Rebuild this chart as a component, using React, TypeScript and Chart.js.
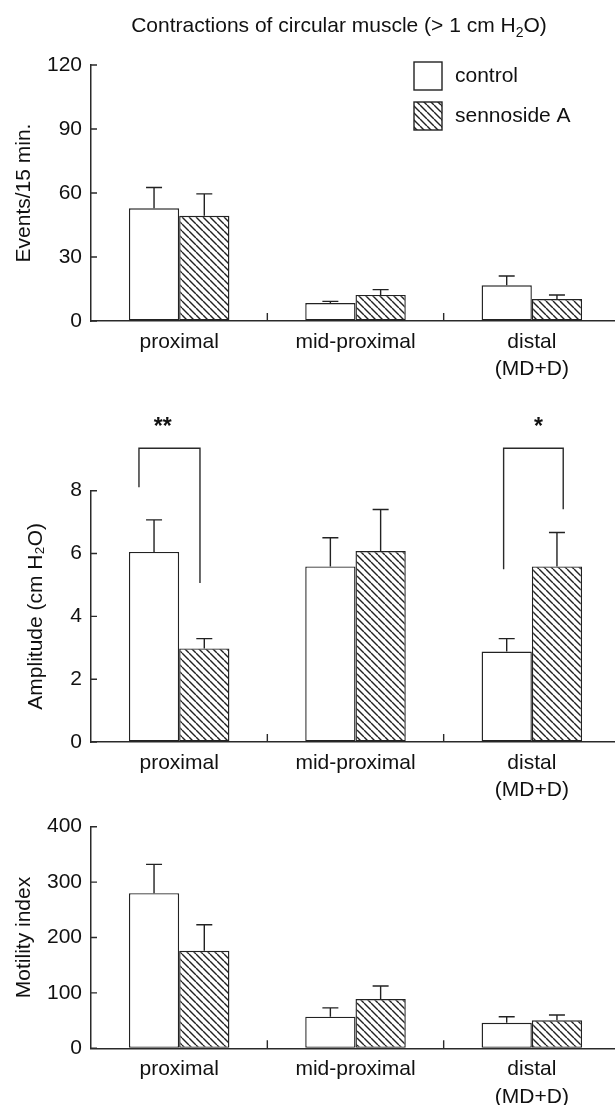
import React, { useEffect, useRef } from 'react';
import { Chart, registerables } from 'chart.js';

Chart.register(...registerables);

// ---------- data ----------
const CATEGORIES: (string | string[])[] = ['proximal', 'mid-proximal', ['distal', '(MD+D)']];
const SERIES = ['control', 'sennoside A'];

const EVENTS_CONTROL = [52.8, 8.4, 16.7];
const EVENTS_CONTROL_ERR = [9.8, 0.8, 4.4];
const EVENTS_SENNOSIDE = [49.3, 12.2, 10.3];
const EVENTS_SENNOSIDE_ERR = [10.3, 2.5, 1.9];
const EVENTS_TICKS = [0, 30, 60, 90, 120];

const AMP_CONTROL = [6.05, 5.59, 2.88];
const AMP_CONTROL_ERR = [1.02, 0.91, 0.41];
const AMP_SENNOSIDE = [2.98, 6.08, 5.59];
const AMP_SENNOSIDE_ERR = [0.31, 1.32, 1.08];
const AMP_TICKS = [0, 2, 4, 6, 8];

const MI_CONTROL = [280, 57, 46];
const MI_CONTROL_ERR = [52, 16, 11];
const MI_SENNOSIDE = [176, 89, 50.5];
const MI_SENNOSIDE_ERR = [47, 23.5, 9.5];
const MI_TICKS = [0, 100, 200, 300, 400];

// significance (amplitude panel)
const SIG_MARKS = ['**', '', '*'];
const SIG_BRACKET_TOP = [9.35, null, 9.35];
const SIG_LEFT_END = [8.11, null, 5.5];
const SIG_RIGHT_END = [5.06, null, 7.41];
const SIG_MARK_LEVEL = [10.25, null, 10.25];

const TITLE_MAIN = 'Contractions of circular muscle (> 1 cm H';
const TITLE_SUB = '2';
const TITLE_END = 'O)';

// ---------- style ----------
const FONT = '"Liberation Sans", Arial, Helvetica, sans-serif';
const FS = 21;
const INK = '#222';
const AXIS = '#2a2a2a';
const TEXT = '#111';

function makeHatch(): CanvasPattern | string {
  const s = 7;
  const c = document.createElement('canvas');
  c.width = s;
  c.height = s;
  const g = c.getContext('2d');
  if (!g) return '#999';
  g.fillStyle = '#fff';
  g.fillRect(0, 0, s, s);
  g.strokeStyle = INK;
  g.lineWidth = 1.4;
  g.beginPath();
  for (const k of [-s, 0, s]) {
    g.moveTo(k, 0);
    g.lineTo(k + s, s);
  }
  g.stroke();
  return g.createPattern(c, 'repeat') || '#999';
}

const errorBarPlugin = (errs: number[][]) => ({
  id: 'errorBars',
  afterDatasetsDraw(chart: any) {
    const { ctx } = chart;
    const y = chart.scales.y;
    ctx.save();
    ctx.strokeStyle = INK;
    ctx.lineWidth = 1.4;
    chart.data.datasets.forEach((ds: any, i: number) => {
      const meta = chart.getDatasetMeta(i);
      meta.data.forEach((el: any, j: number) => {
        const v = ds.data[j] as number;
        const yt = y.getPixelForValue(v + errs[i][j]);
        ctx.beginPath();
        ctx.moveTo(el.x, el.y);
        ctx.lineTo(el.x, yt);
        ctx.moveTo(el.x - 8, yt);
        ctx.lineTo(el.x + 8, yt);
        ctx.stroke();
      });
    });
    ctx.restore();
  },
});

const axisMarksPlugin = {
  id: 'axisMarks',
  afterDraw(chart: any) {
    const { ctx, chartArea } = chart;
    const x = chart.scales.x;
    const y = chart.scales.y;
    ctx.save();
    ctx.strokeStyle = AXIS;
    ctx.lineWidth = 1.4;
    ctx.beginPath();
    y.ticks.forEach((t: any) => {
      const py = y.getPixelForValue(t.value);
      ctx.moveTo(chartArea.left, py);
      ctx.lineTo(chartArea.left + 6, py);
    });
    const n = chart.data.labels.length;
    for (let i = 0; i < n - 1; i++) {
      const px = (x.getPixelForValue(i) + x.getPixelForValue(i + 1)) / 2;
      ctx.moveTo(px, chartArea.bottom);
      ctx.lineTo(px, chartArea.bottom - 8);
    }
    ctx.stroke();
    ctx.restore();
  },
};

const headerPlugin = {
  id: 'header',
  afterDraw(chart: any) {
    const { ctx } = chart;
    ctx.save();
    ctx.fillStyle = TEXT;
    ctx.textBaseline = 'alphabetic';
    const big = `${FS}px ${FONT}`;
    const small = `14px ${FONT}`;
    ctx.font = big;
    const w1 = ctx.measureText(TITLE_MAIN).width;
    const w3 = ctx.measureText(TITLE_END).width;
    ctx.font = small;
    const w2 = ctx.measureText(TITLE_SUB).width;
    const total = w1 + w2 + w3;
    let x0 = 339 - total / 2;
    const base = 32;
    ctx.textAlign = 'left';
    ctx.font = big;
    ctx.fillText(TITLE_MAIN, x0, base);
    x0 += w1;
    ctx.font = small;
    ctx.fillText(TITLE_SUB, x0, base + 5);
    x0 += w2;
    ctx.font = big;
    ctx.fillText(TITLE_END, x0, base);

    // legend
    const boxX = 414;
    const boxW = 28;
    chart.data.datasets.forEach((ds: any, i: number) => {
      const top = 62 + i * 40;
      ctx.fillStyle = ds.backgroundColor;
      ctx.fillRect(boxX, top, boxW, boxW);
      ctx.strokeStyle = INK;
      ctx.lineWidth = 1.4;
      ctx.strokeRect(boxX, top, boxW, boxW);
      ctx.fillStyle = TEXT;
      ctx.font = big;
      ctx.textBaseline = 'middle';
      ctx.fillText(ds.label, 455, top + 14);
    });
    ctx.restore();
  },
};

const bracketPlugin = {
  id: 'brackets',
  afterDraw(chart: any) {
    const { ctx } = chart;
    const x = chart.scales.x;
    const y = chart.scales.y;
    const catW = x.getPixelForValue(1) - x.getPixelForValue(0);
    const offs = [
      [-0.228, 0.118, -0.093],
      [0, 0, 0],
      [-0.16, 0.178, 0.037],
    ];
    ctx.save();
    ctx.strokeStyle = AXIS;
    ctx.lineWidth = 1.4;
    ctx.fillStyle = TEXT;
    SIG_MARKS.forEach((m, i) => {
      if (!m) return;
      const c = x.getPixelForValue(i);
      const xl = c + offs[i][0] * catW;
      const xr = c + offs[i][1] * catW;
      const yt = y.getPixelForValue(SIG_BRACKET_TOP[i] as number);
      ctx.beginPath();
      ctx.moveTo(xl, y.getPixelForValue(SIG_LEFT_END[i] as number));
      ctx.lineTo(xl, yt);
      ctx.lineTo(xr, yt);
      ctx.lineTo(xr, y.getPixelForValue(SIG_RIGHT_END[i] as number));
      ctx.stroke();
      ctx.font = `bold 23px ${FONT}`;
      ctx.textAlign = 'center';
      ctx.textBaseline = 'alphabetic';
      ctx.fillText(m, c + offs[i][2] * catW, y.getPixelForValue(SIG_MARK_LEVEL[i] as number) + 14);
    });
    ctx.restore();
  },
};

function makeConfig(opts: {
  control: number[];
  sennoside: number[];
  errs: number[][];
  ticks: number[];
  yTitle: string;
  titlePad: number;
  padTop: number;
  xHeight: number;
  hatch: any;
  extra: any[];
}) {
  const tickFont = { family: FONT, size: FS, lineHeight: 1.3 };
  return {
    type: 'bar' as const,
    data: {
      labels: CATEGORIES,
      datasets: [
        {
          label: SERIES[0],
          data: opts.control,
          backgroundColor: '#ffffff',
          borderColor: INK,
          borderWidth: 1.4,
          borderSkipped: false,
          categoryPercentage: 0.57,
          barPercentage: 1,
        },
        {
          label: SERIES[1],
          data: opts.sennoside,
          backgroundColor: opts.hatch,
          borderColor: INK,
          borderWidth: 1.4,
          borderSkipped: false,
          categoryPercentage: 0.57,
          barPercentage: 1,
        },
      ],
    },
    options: {
      responsive: false,
      animation: false as const,
      events: [],
      layout: { padding: { top: opts.padTop, left: 0, right: 0, bottom: 0 } },
      plugins: {
        legend: { display: false },
        tooltip: { enabled: false },
        title: { display: false },
      },
      scales: {
        x: {
          type: 'category',
          offset: true,
          grid: { display: true, drawOnChartArea: false, drawTicks: false },
          border: { display: true, color: AXIS, width: 1.5 },
          ticks: { color: TEXT, font: tickFont, padding: 7.5, maxRotation: 0, autoSkip: false },
          afterFit: (s: any) => {
            s.height = opts.xHeight;
          },
        },
        y: {
          type: 'linear',
          min: opts.ticks[0],
          max: opts.ticks[opts.ticks.length - 1],
          afterBuildTicks: (s: any) => {
            s.ticks = opts.ticks.map((v) => ({ value: v }));
          },
          ticks: { color: TEXT, font: { family: FONT, size: FS }, padding: 9 },
          grid: { display: true, drawOnChartArea: false, drawTicks: false },
          border: { display: true, color: AXIS, width: 1.5 },
          title: {
            display: true,
            text: opts.yTitle,
            color: TEXT,
            font: { family: FONT, size: FS, lineHeight: 1.2 },
            padding: { top: opts.titlePad, bottom: 0 },
          },
          afterFit: (s: any) => {
            s.width = 91;
          },
        },
      },
    },
    plugins: [errorBarPlugin(opts.errs), axisMarksPlugin, ...opts.extra],
  };
}

export default function App() {
  const r1 = useRef<HTMLCanvasElement>(null);
  const r2 = useRef<HTMLCanvasElement>(null);
  const r3 = useRef<HTMLCanvasElement>(null);

  useEffect(() => {
    const hatch = makeHatch();
    const charts: Chart[] = [];
    if (r1.current) {
      charts.push(
        new Chart(
          r1.current,
          makeConfig({
            control: EVENTS_CONTROL,
            sennoside: EVENTS_SENNOSIDE,
            errs: [EVENTS_CONTROL_ERR, EVENTS_SENNOSIDE_ERR],
            ticks: EVENTS_TICKS,
            yTitle: 'Events/15 min.',
            titlePad: 11.4,
            padTop: 65,
            xHeight: 59,
            hatch,
            extra: [headerPlugin],
          }) as any
        )
      );
    }
    if (r2.current) {
      charts.push(
        new Chart(
          r2.current,
          makeConfig({
            control: AMP_CONTROL,
            sennoside: AMP_SENNOSIDE,
            errs: [AMP_CONTROL_ERR, AMP_SENNOSIDE_ERR],
            ticks: AMP_TICKS,
            yTitle: 'Amplitude (cm H₂O)',
            titlePad: 23.4,
            padTop: 110.7,
            xHeight: 58,
            hatch,
            extra: [bracketPlugin],
          }) as any
        )
      );
    }
    if (r3.current) {
      charts.push(
        new Chart(
          r3.current,
          makeConfig({
            control: MI_CONTROL,
            sennoside: MI_SENNOSIDE,
            errs: [MI_CONTROL_ERR, MI_SENNOSIDE_ERR],
            ticks: MI_TICKS,
            yTitle: 'Motility index',
            titlePad: 11.4,
            padTop: 26.7,
            xHeight: 56.7,
            hatch,
            extra: [],
          }) as any
        )
      );
    }
    return () => charts.forEach((c) => c.destroy());
  }, []);

  const cv = (top: number): React.CSSProperties => ({ position: 'absolute', left: 0, top, display: 'block' });

  return (
    <div
      style={{
        position: 'absolute',
        left: 0,
        top: 0,
        width: 615,
        height: 1105,
        overflow: 'hidden',
        background: '#fff',
      }}
    >
      <canvas ref={r1} width={620} height={380} style={cv(0)} />
      <canvas ref={r2} width={620} height={420} style={cv(380)} />
      <canvas ref={r3} width={620} height={305} style={cv(800)} />
    </div>
  );
}
